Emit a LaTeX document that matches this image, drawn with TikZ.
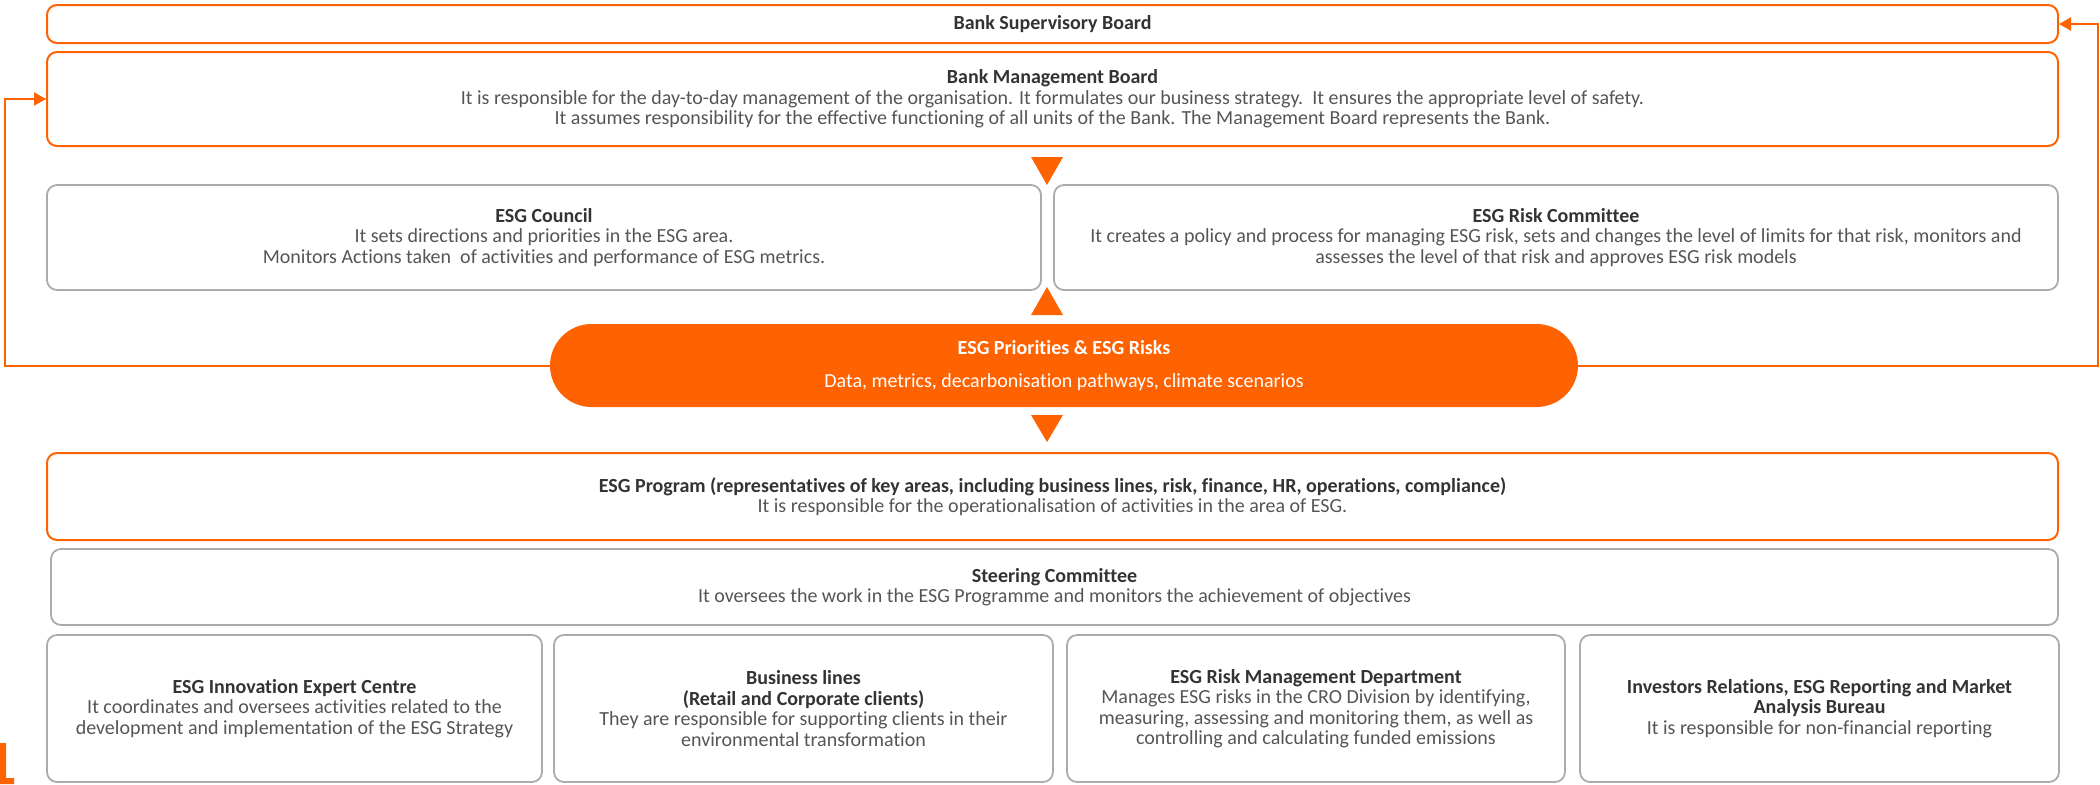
\documentclass[tikz,border=0pt]{standalone}
\usepackage{fontspec}
\setmainfont{Carlito}[Ligatures={NoCommon}]
\usetikzlibrary{arrows.meta}
\definecolor{ingorange}{HTML}{FF6200}
\definecolor{boxgray}{HTML}{ABABAB}
\definecolor{titlegray}{HTML}{333333}
\definecolor{bodygray}{HTML}{555555}
\newcommand{\hd}[1]{{\bfseries\color{titlegray}#1}}
\begin{document}
\begin{tikzpicture}
	[x=0.5pt, y=-0.5pt,
	font=\fontsize{10}{10.2}\selectfont, text=bodygray,
	box/.style = {draw, rounded corners=5pt, line width=1pt, align=center, inner sep=0pt},
	board/.style = {box, draw=ingorange},
	unit/.style = {box, draw=boxgray, line width=0.9pt},
	hub/.style = {fill=ingorange, rounded corners=20.75pt, text=white, align=center, inner sep=0pt},
	marker/.style = {fill=ingorange},
	loop/.style = {draw=ingorange, line width=1pt, -{Triangle[length=6pt,width=6.5pt]}}]
\useasboundingbox (0,0) rectangle (2100,784);
% boards
\node[board, minimum width=1005.5pt, minimum height=19pt] (sup) at (1052.5,24) {\hd{Bank Supervisory Board}};
\node[board, minimum width=1005.5pt, minimum height=47pt] (mgmt) at (1052.5,99) {\hd{Bank Management Board}\\
	It is responsible for the day-to-day management of the organisation. It formulates our business strategy.\ \ It ensures the appropriate level of safety.\\
	It assumes responsibility for the effective functioning of all units of the Bank. The Management Board represents the Bank.};
% committees
\node[unit, minimum width=497pt, minimum height=52.5pt] (council) at (544,237.5) {\hd{ESG Council}\\
	It sets directions and priorities in the ESG area.\\
	Monitors Actions taken\ \ of activities and performance of ESG metrics.};
\node[unit, minimum width=502pt, minimum height=52.5pt] (riskcom) at (1556,237.5) {\hd{ESG Risk Committee}\\
	It creates a policy and process for managing ESG risk, sets and changes the level of limits for that risk, monitors and\\
	assesses the level of that risk and approves ESG risk models};
\node[hub, minimum width=514pt, minimum height=41.5pt] (hub) at (1064,365.5) {\textbf{ESG Priorities \& ESG Risks}\\[6.3pt]
	Data, metrics, decarbonisation pathways, climate scenarios};
% programme
\node[board, minimum width=1005.5pt, minimum height=43.5pt] (prog) at (1052.5,496.5) {\hd{ESG Program (representatives of key areas, including business lines, risk, finance, HR, operations, compliance)}\\
	It is responsible for the operationalisation of activities in the area of ESG.};
\node[unit, minimum width=1003.5pt, minimum height=38pt] (steer) at (1054.5,587) {\hd{Steering Committee}\\
	It oversees the work in the ESG Programme and monitors the achievement of objectives};
\node[unit, minimum width=247.5pt, minimum height=73.5pt] (innov) at (294.5,708.5) {\hd{ESG Innovation Expert Centre}\\
	It coordinates and oversees activities related to the\\
	development and implementation of the ESG Strategy};
\node[unit, minimum width=249.5pt, minimum height=73.5pt] (lines) at (803.5,708.5) {\hd{Business lines}\\
	\hd{(Retail and Corporate clients)}\\
	They are responsible for supporting clients in their\\
	environmental transformation};
\node[unit, minimum width=249pt, minimum height=73.5pt] (riskdep) at (1316,708.5) {\hd{ESG Risk Management Department}\\
	Manages ESG risks in the CRO Division by identifying,\\
	measuring, assessing and monitoring them, as well as\\
	controlling and calculating funded emissions};
\node[unit, minimum width=239.5pt, minimum height=73.5pt] (irbureau) at (1819.5,708.5) {\hd{Investors Relations, ESG Reporting and Market}\\
	\hd{Analysis Bureau}\\
	It is responsible for non-financial reporting};
% triangles
\fill[marker] (1031,157) -- (1063,157) -- (1047,185) -- cycle;
\fill[marker] (1031,315) -- (1063,315) -- (1047,287) -- cycle;
\fill[marker] (1031,415) -- (1063,415) -- (1047,442) -- cycle;
% feedback lines
\coordinate (lft) at (5,0);
\coordinate (rgt) at (2098,0);
\draw[loop] (hub.west) -- (hub.west -| lft) -- (mgmt.west -| lft) -- (mgmt.west);
\draw[loop] (hub.east) -- (hub.east -| rgt) -- (sup.east -| rgt) -- (sup.east);
\fill[ingorange] (0,743) -- (6,743) -- (6,778) -- (14,778) -- (14,784) -- (0,784) -- cycle;
\end{tikzpicture}
\end{document}
